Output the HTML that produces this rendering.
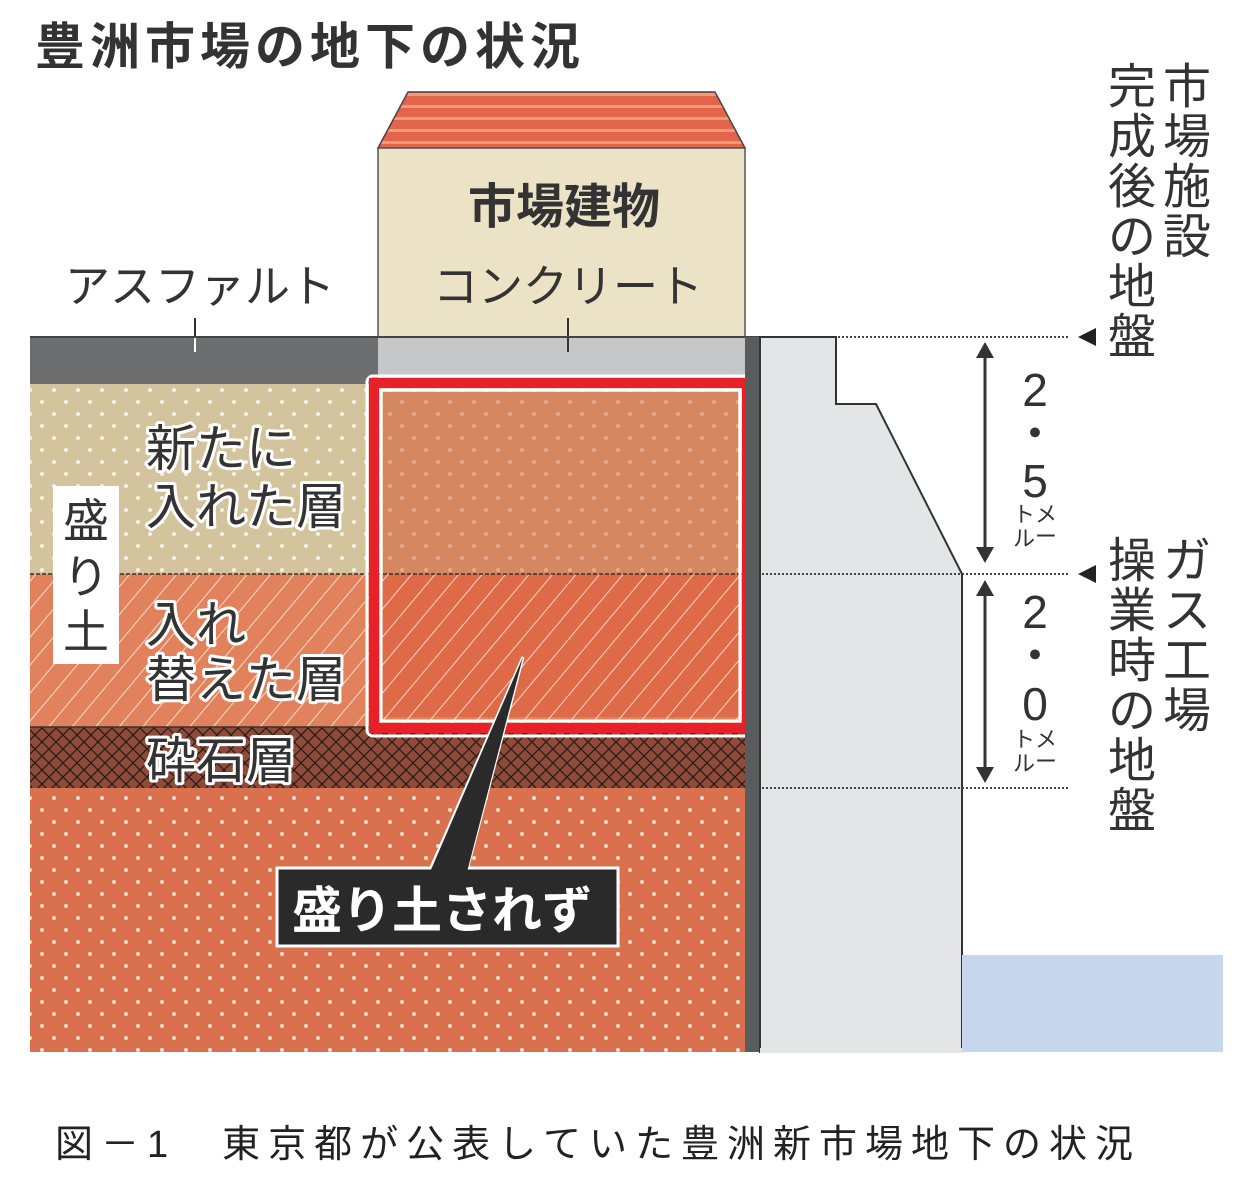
<!DOCTYPE html>
<html><head><meta charset="utf-8"><style>
html,body{margin:0;padding:0;background:#fff;}
svg{display:block;}
text{font-family:"Liberation Sans","Noto Sans CJK JP",sans-serif;}
</style></head><body>
<svg width="1255" height="1184" viewBox="0 0 1255 1184" xmlns="http://www.w3.org/2000/svg">
<defs>
<pattern id="dots" width="24" height="24" patternUnits="userSpaceOnUse">
<circle cx="6" cy="6" r="2" fill="#fff" opacity="0.75"/><circle cx="18" cy="18" r="2" fill="#fff" opacity="0.75"/>
</pattern>
<pattern id="hatch" width="18" height="18" patternUnits="userSpaceOnUse" patternTransform="rotate(40)">
<rect width="18" height="18" fill="none"/><line x1="0" y1="0" x2="0" y2="18" stroke="#fff" stroke-width="2" opacity="0.7"/>
</pattern>
<pattern id="cross" width="14" height="14" patternUnits="userSpaceOnUse">
<path d="M0 0L14 14M14 0L0 14" stroke="#2a1a16" stroke-width="1.3"/>
</pattern>
<pattern id="roof" width="10" height="12" patternUnits="userSpaceOnUse">
<rect width="10" height="12" fill="#e2644a"/><rect y="9" width="10" height="3" fill="#f19a7a"/>
</pattern>
</defs>
<text x="35" y="64" font-size="50" font-weight="bold" fill="#333" letter-spacing="5">豊洲市場の地下の状況</text>
<!-- building -->
<path d="M378 148 L408 92 L715 92 L745 148 Z" fill="url(#roof)" stroke="#444" stroke-width="1.5"/>
<rect x="378" y="148" width="367" height="189" fill="#ece3c6" stroke="#555" stroke-width="1.5"/>
<text x="468" y="223" font-size="48" font-weight="bold" fill="#333">市場建物</text>
<text x="433" y="302" font-size="45" fill="#333">コンクリート</text>
<text x="65" y="302" font-size="45" fill="#333">アスファルト</text>
<line x1="195" y1="318" x2="195" y2="350" stroke="#333" stroke-width="2"/>
<line x1="568" y1="318" x2="568" y2="350" stroke="#333" stroke-width="2"/>
<!-- ground -->
<line x1="30" y1="337" x2="836" y2="337" stroke="#444" stroke-width="2"/>
<rect x="30" y="338" width="348" height="46" fill="#6d6e70"/>
<rect x="378" y="338" width="367" height="46" fill="#c6c7c9"/>
<line x1="195" y1="338" x2="195" y2="352" stroke="#fff" stroke-width="2"/>
<line x1="568" y1="338" x2="568" y2="352" stroke="#333" stroke-width="2"/>
<rect x="30" y="384" width="715" height="190" fill="#d3c49e"/>
<rect x="30" y="384" width="715" height="190" fill="url(#dots)"/>
<rect x="30" y="574" width="715" height="153" fill="#e2825c"/>
<rect x="30" y="574" width="715" height="153" fill="url(#hatch)"/>
<line x1="30" y1="574" x2="745" y2="574" stroke="#333" stroke-width="1.5" stroke-dasharray="4 2"/>
<rect x="30" y="727" width="715" height="61" fill="#8e4b3a"/>
<rect x="30" y="727" width="715" height="61" fill="url(#cross)"/>
<line x1="30" y1="727" x2="745" y2="727" stroke="#333" stroke-width="1.5"/>
<rect x="30" y="788" width="715" height="264" fill="#d9714e"/>
<rect x="30" y="788" width="715" height="264" fill="url(#dots)"/>
<!-- red box -->
<rect x="383" y="392" width="355" height="182" fill="#d5875f"/>
<rect x="383" y="392" width="355" height="182" fill="url(#dots)" opacity="0.4"/>
<rect x="383" y="574" width="355" height="143" fill="#df6a48"/>
<rect x="383" y="574" width="355" height="143" fill="url(#hatch)"/>
<line x1="383" y1="574" x2="738" y2="574" stroke="#333" stroke-width="1.5" stroke-dasharray="4 2"/>
<rect x="367" y="376" width="388" height="360" rx="6" fill="none" stroke="#fff" stroke-width="3"/>
<rect x="374" y="383" width="373" height="345" fill="none" stroke="#e8202a" stroke-width="10"/>
<rect x="381" y="390" width="359" height="331" fill="none" stroke="#fff" stroke-width="3"/>
<!-- labels left -->
<rect x="53" y="486" width="66" height="178" fill="#fff"/>
<g font-size="46" fill="#333" text-anchor="middle">
<text x="86" y="537">盛</text><text x="86" y="593">り</text><text x="86" y="648">土</text>
</g>
<g font-size="50" fill="#333" stroke="#fff" stroke-width="6" paint-order="stroke" stroke-linejoin="round">
<text x="146" y="466">新たに</text>
<text x="146" y="524">入れた層</text>
<text x="146" y="642">入れ</text>
<text x="146" y="697">替えた層</text>
<text x="146" y="778">砕石層</text>
</g>
<!-- wall -->
<rect x="745" y="337" width="15" height="715" fill="#5a5b5d"/>
<path d="M760 337 L836 337 L836 404 L876 404 L962 574 L962 1052 L760 1052 Z" fill="#e4e5e7" stroke="#333" stroke-width="2"/>
<rect x="760" y="1048" width="203" height="5" fill="#e4e5e7"/>
<rect x="962" y="955" width="261" height="97" fill="#c6d6ec"/>
<g stroke="#444" stroke-width="2" stroke-dasharray="2 2">
<line x1="838" y1="337" x2="1070" y2="337"/>
<line x1="762" y1="574" x2="1070" y2="574"/>
<line x1="762" y1="788" x2="1070" y2="788"/>
</g>
<path d="M1078 337 L1096 328 L1096 346 Z" fill="#222"/>
<path d="M1078 574 L1096 565 L1096 583 Z" fill="#222"/>
<g stroke="#333" stroke-width="3"><line x1="985" y1="355" x2="985" y2="550"/><line x1="985" y1="592" x2="985" y2="770"/></g>
<g fill="#333">
<path d="M985 342 L976 358 L994 358 Z"/><path d="M985 563 L976 547 L994 547 Z"/>
<path d="M985 580 L976 596 L994 596 Z"/><path d="M985 783 L976 767 L994 767 Z"/>
</g>
<g font-size="46" fill="#333" text-anchor="middle">
<text x="1035" y="406">2</text><text x="1035" y="450">・</text><text x="1035" y="497">5</text>
<text x="1035" y="628">2</text><text x="1035" y="672">・</text><text x="1035" y="720">0</text>
</g>
<g font-size="22" fill="#333" text-anchor="middle">
<text x="1046" y="522">メ</text><text x="1046" y="544">ー</text><text x="1024" y="522">ト</text><text x="1024" y="546">ル</text>
<text x="1046" y="747">メ</text><text x="1046" y="769">ー</text><text x="1024" y="747">ト</text><text x="1024" y="771">ル</text>
</g>
<g font-size="48" fill="#333" text-anchor="middle">
<text x="1187" y="103">市</text><text x="1187" y="153">場</text><text x="1187" y="203">施</text><text x="1187" y="253">設</text>
<text x="1132" y="103">完</text><text x="1132" y="153">成</text><text x="1132" y="203">後</text><text x="1132" y="253">の</text><text x="1132" y="303">地</text><text x="1132" y="353">盤</text>
<text x="1187" y="577">ガ</text><text x="1187" y="627">ス</text><text x="1187" y="677">工</text><text x="1187" y="727">場</text>
<text x="1132" y="577">操</text><text x="1132" y="627">業</text><text x="1132" y="677">時</text><text x="1132" y="727">の</text><text x="1132" y="777">地</text><text x="1132" y="827">盤</text>
</g>
<!-- callout -->
<path d="M523 657 L467 870 L430 870 Z" fill="#2a2a2a" stroke="#fff" stroke-width="3"/>
<rect x="277" y="868" width="341" height="78" fill="#2a2a2a" stroke="#fff" stroke-width="3"/>
<path d="M523 657 L467 872 L430 872 Z" fill="#2a2a2a"/>
<text x="292" y="928" font-size="50" font-weight="bold" fill="#fff">盛り土されず</text>
<!-- caption -->
<text x="55" y="1157" font-size="38" fill="#222" letter-spacing="8">図－1　東京都が公表していた豊洲新市場地下の状況</text>
</svg>
</body></html>
